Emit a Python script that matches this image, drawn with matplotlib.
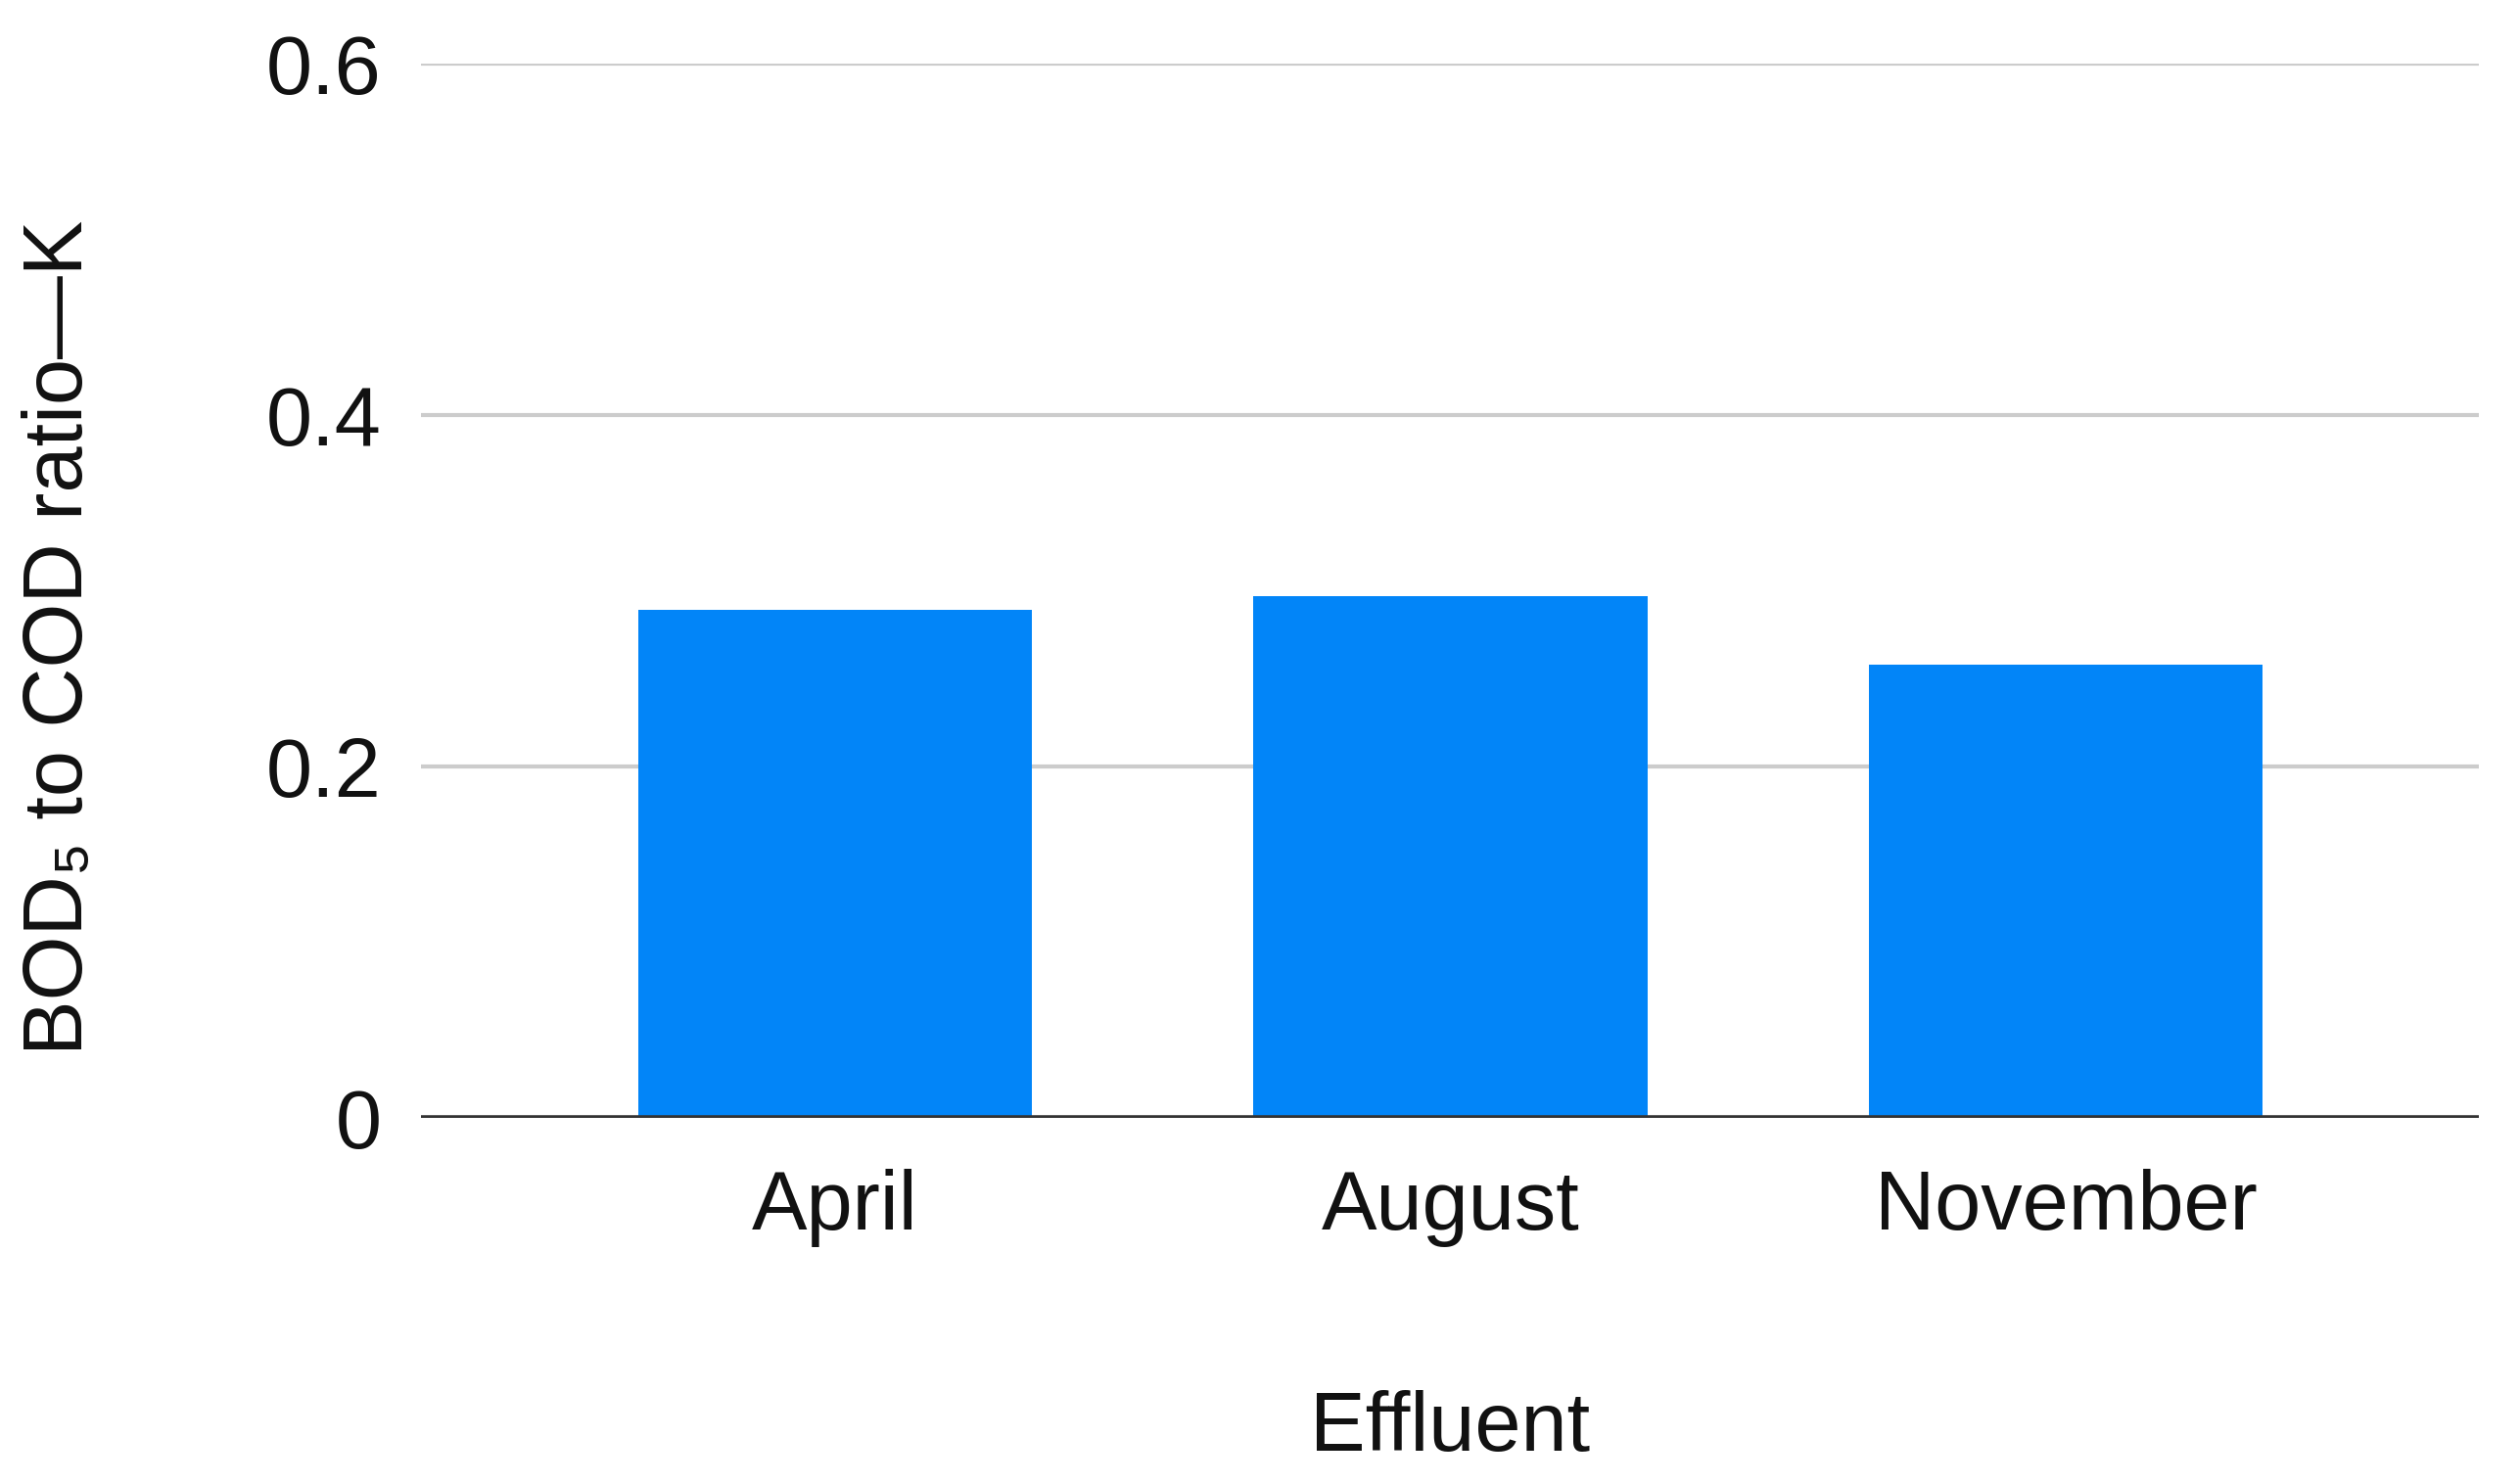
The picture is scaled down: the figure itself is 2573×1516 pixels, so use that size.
import matplotlib.pyplot as plt

plt.rcParams['font.family'] = ['Liberation Sans', 'DejaVu Sans']

months = ['April', 'August', 'November']
ratio_k = [0.289, 0.297, 0.258]
y_ticks = [0, 0.2, 0.4, 0.6]
y_tick_labels = ['0', '0.2', '0.4', '0.6']

fig = plt.figure(figsize=(25.73, 15.16), dpi=100)
ax = fig.add_axes([0.167, 0.247, 0.817, 0.710])

x = range(len(months))
ax.bar(x, ratio_k, width=0.64, color='#0285F8', zorder=3)

ax.set_xlim(-0.673, 2.671)
ax.set_ylim(0, 0.6)
ax.set_yticks(y_ticks)
ax.set_yticklabels(y_tick_labels)
ax.set_xticks(list(x))
ax.set_xticklabels(months)

ax.grid(axis='y', color='#cccccc', linewidth=3, zorder=0)
ax.axhline(0, color='#333333', linewidth=4, zorder=4)
for s in ax.spines.values():
    s.set_visible(False)
ax.tick_params(axis='both', length=0, labelsize=61, colors='#111111')
ax.tick_params(axis='y', pad=29)
ax.tick_params(axis='x', pad=38)

ax.set_xlabel('Effluent', fontsize=61, color='#111111')
ax.xaxis.set_label_coords(0.5, -0.259)
ax.set_ylabel('BOD₅ to COD ratio—K', fontsize=61, color='#111111', va='center')
ax.yaxis.set_label_coords(-0.175, 0.455)

fig.savefig('out.png', dpi=100, facecolor='white')
